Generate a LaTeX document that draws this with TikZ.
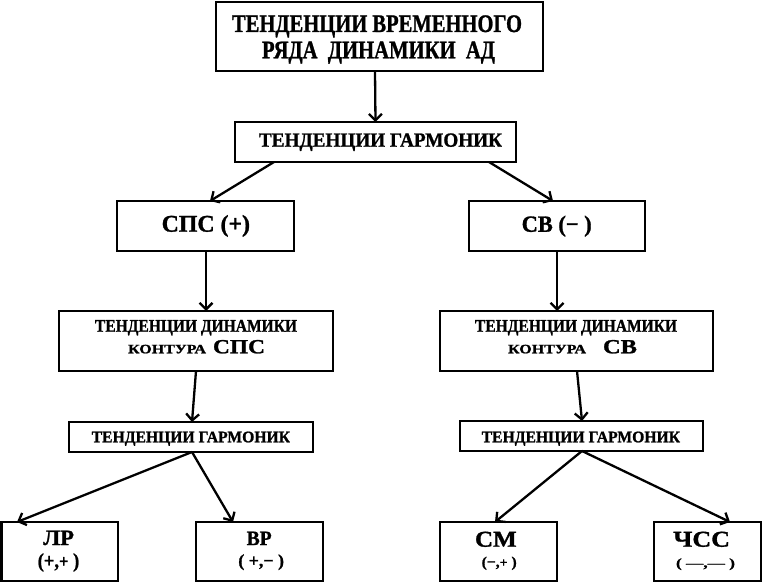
\documentclass[tikz,border=0pt]{standalone}
\usepackage{fontspec}
\setmainfont[BoldFeatures={FakeBold=1.2}]{Liberation Serif}
\usepackage{graphicx}
\usetikzlibrary{arrows.meta}
\newcommand{\capt}[3]{\resizebox{#1pt}{#2pt}{\bfseries #3}}
\newcommand{\tott}[3]{\resizebox*{#1pt}{#2pt}{\bfseries #3}}
\begin{document}
\begin{tikzpicture}[x=1pt,y=-1pt,
  box/.style={draw,line width=2.3pt,rectangle,inner sep=0pt,outer sep=0pt},
  txt/.style={inner sep=0pt,outer sep=0pt},
  arr/.style={line width=2.3pt,-{Straight Barb[length=6.5pt,width=13pt]}}]
\useasboundingbox (0,0) rectangle (763,585);
% boxes
\node[box,minimum width=327pt,minimum height=69pt] (A) at (379.5,36.5) {};
\node[box,minimum width=281pt,minimum height=40pt] (B) at (375.5,142) {};
\node[box,minimum width=177pt,minimum height=50pt] (C) at (205.5,226) {};
\node[box,minimum width=176pt,minimum height=50pt] (D) at (557,226) {};
\node[box,minimum width=274pt,minimum height=60pt] (E) at (196,341) {};
\node[box,minimum width=273pt,minimum height=60pt] (F) at (576.5,341) {};
\node[box,minimum width=244pt,minimum height=30pt] (G) at (191,437) {};
\node[box,minimum width=243pt,minimum height=30pt] (H) at (581.5,436) {};
\node[box,minimum width=116.5pt,minimum height=59pt] (I) at (59.75,551.5) {};
\node[box,minimum width=127pt,minimum height=59pt] (J) at (259.5,551.5) {};
\node[box,minimum width=117pt,minimum height=59pt] (K) at (498.5,551.5) {};
\node[box,minimum width=107pt,minimum height=59pt] (L) at (707.5,551.5) {};
% texts
\node[txt,anchor=base west] (t1) at (232,32) {\capt{290}{16.7}{ТЕНДЕНЦИИ ВРЕМЕННОГО}};
\node[txt,anchor=base west] (t2) at (262,58.3) {\capt{233}{16.7}{РЯДА\ \ ДИНАМИКИ\ \ АД}};
\node[txt,anchor=base west] (t3) at (259,146.7) {\capt{243}{13.3}{ТЕНДЕНЦИИ ГАРМОНИК}};
\node[txt,anchor=west] (t4) at (161.7,225.9) {\tott{88.3}{21.7}{СПС (+)}};
\node[txt,anchor=west] (t5) at (521.7,226.2) {\tott{70}{21}{СВ (− )}};
\node[txt,anchor=base west] (t6) at (95,331.7) {\capt{202}{11.7}{ТЕНДЕНЦИИ ДИНАМИКИ}};
\node[txt,anchor=base west] (t7) at (128,353.3) {\capt{78}{8.5}{КОНТУРА}};
\node[txt,anchor=base west] (t8) at (213,353.3) {\capt{52}{13.3}{СПС}};
\node[txt,anchor=base west] (t9) at (475,331.7) {\capt{202}{11.7}{ТЕНДЕНЦИИ ДИНАМИКИ}};
\node[txt,anchor=base west] (t10) at (508,353.3) {\capt{78}{8.5}{КОНТУРА}};
\node[txt,anchor=base west] (t11) at (603,353.3) {\capt{34}{13.3}{СВ}};
\node[txt,anchor=base west] (t12) at (91.7,442.3) {\capt{198.3}{10.7}{ТЕНДЕНЦИИ ГАРМОНИК}};
\node[txt,anchor=base west] (t13) at (481.7,442.3) {\capt{198.3}{10.7}{ТЕНДЕНЦИИ ГАРМОНИК}};
\node[txt,anchor=base west] (t14) at (43.3,545) {\capt{30.7}{14.3}{ЛР}};
\node[txt,anchor=west] (t15) at (37.7,562.5) {\tott{41.6}{18.4}{(+,{\small +} )}};
\node[txt,anchor=base west] (t16) at (246.7,545) {\capt{25}{13.3}{ВР}};
\node[txt,anchor=west] (t17) at (238.3,562.2) {\tott{45.7}{15.7}{( +,− )}};
\node[txt,anchor=base west] (t18) at (475,546.7) {\capt{41.7}{15}{СМ}};
\node[txt,anchor=west] (t19) at (481.7,563.3) {\tott{35}{13.3}{(−,{\small +} )}};
\node[txt,anchor=base west] (t20) at (673.3,546.7) {\capt{56.7}{15}{ЧСС}};
\node[txt,anchor=west] (t21) at (676,564.2) {\tott{59}{11.7}{( —,— )}};
% connectors
\draw[arr] ([xshift=-4.5pt]A.south) -- (B.north);
\draw[arr] ([xshift=-101.5pt]B.south) -- ([xshift=4.5pt]C.north);
\draw[arr] ([xshift=113.5pt]B.south) -- ([xshift=-4pt]D.north);
\draw[arr] ([xshift=0.5pt]C.south) -- ([xshift=10pt]E.north);
\draw[arr] (D.south) -- ([xshift=-19.5pt]F.north);
\draw[arr] (E.south) -- ([xshift=1pt]G.north);
\draw[arr] ([xshift=0.5pt]F.south) -- ([xshift=0.5pt]H.north);
\draw[arr] ([xshift=1pt]G.south) -- ([xshift=-42.75pt]I.north);
\draw[arr] ([xshift=1pt]G.south) -- ([xshift=-26.5pt]J.north);
\draw[arr] ([xshift=0.5pt]H.south) -- ([xshift=-3.5pt]K.north);
\draw[arr] ([xshift=0.5pt]H.south) -- ([xshift=22.5pt]L.north);
\end{tikzpicture}
\end{document}
